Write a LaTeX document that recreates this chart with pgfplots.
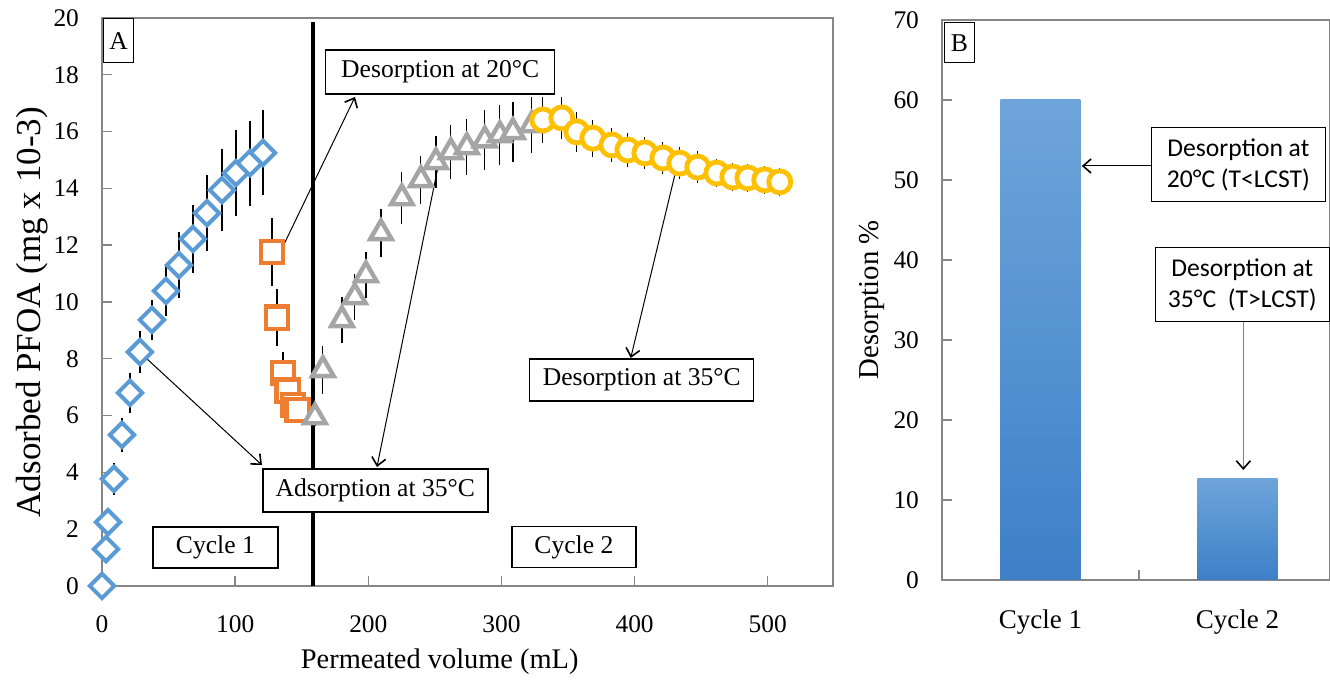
\documentclass[border=0pt]{standalone}
\usepackage{fontspec}
\setmainfont{Liberation Serif}
\newfontfamily\calibri{Carlito}
\usepackage{pgfplots}
\pgfplotsset{compat=1.18}
\usetikzlibrary{arrows.meta}

\definecolor{blueM}{HTML}{5B9BD5}
\definecolor{orangeM}{HTML}{ED7D31}
\definecolor{grayM}{HTML}{A5A5A5}
\definecolor{yellowM}{HTML}{FFC000}
\definecolor{axisgray}{HTML}{868686}
\definecolor{barTop}{HTML}{6EA5DA}
\definecolor{barBot}{HTML}{3D80C8}

\tikzset{
  box/.style={draw=black, line width=0.7pt, fill=white, inner sep=0pt,
              font=\fontsize{12.8}{15}\selectfont},
  arr/.style={line width=0.5pt, -{Straight Barb[length=4pt, width=7pt, line width=0.8pt]}},
}

\pgfplotsset{
  common/.style={
    scale only axis, anchor=south west, clip=false,
    tick align=inside, major tick length=5pt,
    xtick pos=left, ytick pos=left,
    axis line style={draw=axisgray, line width=0.7pt},
    tick style={draw=axisgray, line width=0.7pt},
    ticklabel style={font=\fontsize{12.7}{14}\selectfont},
    xticklabel style={yshift=-11.5pt},
    yticklabel style={xshift=-8pt},
    /pgf/number format/assume math mode=true,
  },
  ebars/.style={
    only marks,
    error bars/y dir=both, error bars/y explicit, error bars/error mark=none,
    error bars/error bar style={black, line width=0.6pt},
  },
}

\begin{document}
\begin{tikzpicture}
\useasboundingbox (0,0) rectangle (665pt,341.5pt);

% ---- Panel A: adsorption / desorption cycles
\begin{axis}[common,
  at={(51pt,48.5pt)}, width=365.5pt, height=284pt,
  xmin=0, xmax=549, ymin=0, ymax=20,
  xtick={0,100,...,500}, ytick={0,2,...,20},
  xlabel={Permeated volume (mL)},
  ylabel={Adsorbed PFOA (mg x 10-3)},
  xlabel style={font=\fontsize{14.2}{16}\selectfont,
                at={(axis description cs:0.462,-0.133)}, anchor=center},
  ylabel style={font=\fontsize{17.5}{20}\selectfont,
                at={(axis description cs:-0.096,0.482)}, anchor=center},
]
  % Cycle 1, adsorption at 35 C
  \addplot+[ebars, mark=square*, mark size=4.3pt,
    mark options={rotate=45, draw=blueM, fill=white, line width=2pt}]
    coordinates {
    (0,0) +- (0,0.3)        (3,1.30) +- (0,0.35)    (4.5,2.25) +- (0,0.4)
    (9,3.77) +- (0,0.55)    (15,5.32) +- (0,0.6)    (21,6.80) +- (0,0.7)
    (28.5,8.24) +- (0,0.75) (37.5,9.37) +- (0,0.7)  (48,10.39) +- (0,0.9)
    (57.8,11.30) +- (0,1.15) (68.3,12.22) +- (0,1.2) (78.8,13.13) +- (0,1.35)
    (90.1,13.94) +- (0,1.45) (100.6,14.54) +- (0,1.5) (111.1,14.89) +- (0,1.5)
    (120.9,15.25) +- (0,1.5)
  };
  % Cycle 1, desorption at 20 C
  \addplot+[ebars, mark=square*, mark size=5.6pt,
    mark options={draw=orangeM, fill=white, line width=2.2pt}]
    coordinates {
    (127.6,11.76) +- (0,1.2) (131.4,9.44) +- (0,1.0) (135.9,7.50) +- (0,0.75)
    (139.6,6.87) +- (0,0.5)  (143.4,6.37) +- (0,0.4) (147.1,6.20) +- (0,0.35)
  };
  % Cycle 2, adsorption at 35 C
  \addplot+[ebars, mark=triangle*, mark size=6.2pt,
    mark options={draw=grayM, fill=white, line width=2.2pt}]
    coordinates {
    (159.9,5.95) +- (0,0.3)   (165.9,7.61) +- (0,0.85)  (180.2,9.37) +- (0,0.8)
    (189.9,10.18) +- (0,0.8)  (198.2,10.95) +- (0,0.8)  (209.5,12.43) +- (0,0.85)
    (225.2,13.66) +- (0,0.9)  (239.5,14.30) +- (0,0.85) (250.8,14.93) +- (0,0.9)
    (262.0,15.28) +- (0,0.95) (274.0,15.46) +- (0,1.0)  (287.5,15.70) +- (0,1.05)
    (298.8,15.88) +- (0,1.05) (308.6,15.99) +- (0,1.05) (322.8,16.23) +- (0,1.0)
  };
  % Cycle 2, desorption at 35 C
  \addplot+[ebars, mark=*, mark size=5.5pt,
    mark options={draw=yellowM, fill=white, line width=2.4pt}]
    coordinates {
    (331.1,16.41) +- (0,0.8)  (345.3,16.48) +- (0,0.75) (356.6,15.99) +- (0,0.7)
    (368.6,15.77) +- (0,0.65) (382.9,15.53) +- (0,0.6)  (394.9,15.35) +- (0,0.6)
    (407.7,15.25) +- (0,0.55) (421.2,15.07) +- (0,0.55) (433.9,14.89) +- (0,0.55)
    (447.4,14.75) +- (0,0.55) (461.7,14.54) +- (0,0.5)  (473.7,14.40) +- (0,0.5)
    (485.0,14.37) +- (0,0.5)  (497.7,14.30) +- (0,0.5)  (509.0,14.23) +- (0,0.5)
  };

  % cycle separator
  \draw[black, line width=2pt] (axis cs:158.6,0) -- (axis cs:158.6,19.85);

  \draw[arr] (axis cs:133.6,11.73) -- (axis cs:190,17.22);
  \draw[arr] (axis cs:32.3,8.06)   -- (axis cs:120.1,4.26);
  \draw[arr] (axis cs:252.3,14.75) -- (axis cs:206.5,4.19);
  \draw[arr] (axis cs:430.2,14.47) -- (axis cs:397.1,8.03);

  \node[box, anchor=north west, minimum width=15pt, minimum height=22pt]
    at (axis cs:0.6,20) {A};
  \node[box, minimum width=114.5pt, minimum height=22pt]
    at (axis cs:254,18.1) {Desorption at 20°C};
  \node[box, minimum width=112.5pt, minimum height=21.5pt]
    at (axis cs:205.3,3.36) {Adsorption at 35°C};
  \node[box, minimum width=112pt, minimum height=21pt]
    at (axis cs:405.4,7.25) {Desorption at 35°C};
  \node[box, minimum width=62.5pt, minimum height=20.5pt]
    at (axis cs:85.2,1.36) {Cycle 1};
  \node[box, minimum width=62pt, minimum height=20.5pt]
    at (axis cs:354.4,1.37) {Cycle 2};
\end{axis}

% ---- Panel B: desorption percentage
\begin{axis}[common,
  at={(471pt,51.5pt)}, width=194pt, height=280pt,
  xmin=0.5, xmax=2.47, ymin=0, ymax=70,
  ytick={0,10,...,70},
  xtick={1.5}, xticklabels={},
  extra x ticks={1,2}, extra x tick labels={Cycle 1,Cycle 2},
  extra x tick style={major tick length=0pt,
    ticklabel style={font=\fontsize{13.5}{15}\selectfont}},
  ylabel={Desorption \%},
  ylabel style={font=\fontsize{14.4}{16}\selectfont,
                at={(axis description cs:-0.18,0.5)}, anchor=center},
]
  \addplot[ybar, bar width=40pt, bar shift=0pt, draw=none,
           top color=barTop, bottom color=barBot] coordinates {(1,60)};
  \addplot[ybar, bar width=40pt, bar shift=0pt, draw=none,
           top color=barTop, bottom color=barBot] coordinates {(2,12.7)};

  \draw[arr] (axis cs:1.562,51.75) -- (axis cs:1.21,51.75);
  \draw[line width=0.5pt, draw=gray,
        -{Straight Barb[length=4pt, width=7pt, line width=0.8pt, black]}]
    (axis cs:2.03,32.25) -- (axis cs:2.03,13.75);

  \node[box, anchor=north west, minimum width=15pt, minimum height=20pt]
    at (axis cs:0.509,69.75) {B};
  \node[box, align=center, minimum width=87pt, minimum height=37pt,
        font=\calibri\fontsize{12.8}{15.5}\selectfont]
    at (axis cs:2.005,51.9) {Desorption at\\20°C (T<LCST)};
  \node[box, align=center, minimum width=87pt, minimum height=37pt,
        font=\calibri\fontsize{12.8}{15.5}\selectfont]
    at (axis cs:2.025,36.9) {Desorption at\\35°C\ \ (T>LCST)};
\end{axis}
\end{tikzpicture}
\end{document}
